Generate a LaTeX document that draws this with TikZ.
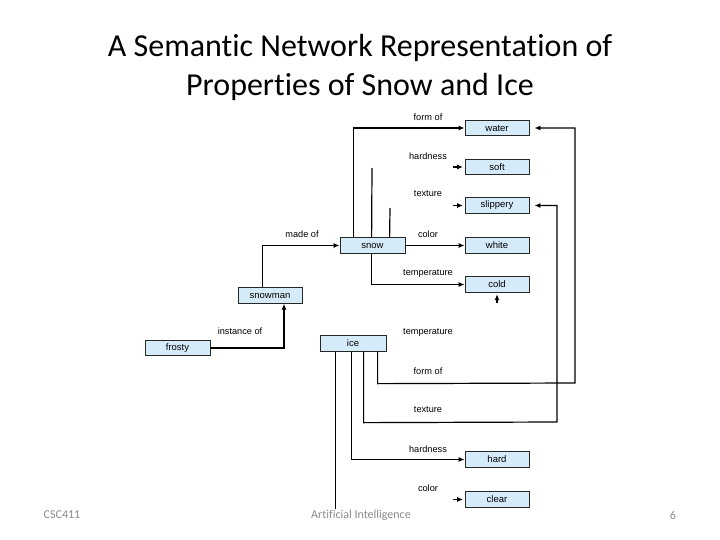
\documentclass[tikz,border=0pt]{standalone}
\usepackage{fontspec}
\setmainfont{Carlito}[Ligatures={NoCommon}]
\newfontfamily\diag{Liberation Sans}
\usetikzlibrary{arrows.meta,calc}
\definecolor{boxblue}{HTML}{D6EBF9}
\definecolor{footgray}{HTML}{8A8A8A}
\begin{document}
\begin{tikzpicture}[x=1pt,y=-1pt,
  box/.style={draw=black!85,line width=0.8pt,fill=boxblue,minimum width=64pt,minimum height=15.5pt,inner sep=0pt,font=\diag\fontsize{9.5}{11}\selectfont},
  lbl/.style={font=\diag\fontsize{9.2}{11}\selectfont,inner sep=0pt},
  conn/.style={draw=black,line width=1.2pt},
  arr/.style={conn,-{Latex[length=6pt,width=5pt]}},
  stub/.style={conn,-{Latex[length=6pt,width=5pt]},shorten >=1.5pt},
  foot/.style={font=\fontsize{12}{14}\selectfont,text=footgray,inner sep=0pt}]
\useasboundingbox (0,0) rectangle (720,540);
% title
\node[font=\fontsize{32}{38}\selectfont,inner sep=0pt] (t1) at (360,48) {A Semantic Network Representation of};
\node[font=\fontsize{32}{38}\selectfont,inner sep=0pt] (t2) at (360,87) {Properties of Snow and Ice};
% boxes
\node[box] (water) at (497,128) {water};
\node[box] (soft) at (497,167) {soft};
\node[box] (slippery) at (497,205.5) {slippery};
\node[box] (white) at (497,245.5) {white};
\node[box] (cold) at (497,284.5) {cold};
\node[box,minimum width=65pt] (snow) at (372.5,245.5) {snow};
\node[box] (snowman) at (270,295.5) {snowman};
\node[box,minimum width=65pt] (frosty) at (177.5,348) {frosty};
\node[box,minimum width=66pt] (ice) at (353,343.5) {ice};
\node[box] (hard) at (497,459.5) {hard};
\node[box] (clear) at (497,499.5) {clear};
% helper coordinates
\coordinate (sA) at ($(snow.north west)+(14,0)$);
\coordinate (sB) at ($(snow.north west)+(32,0)$);
\coordinate (sC) at ($(snow.north west)+(50,0)$);
\coordinate (sD) at ($(snow.south west)+(32,0)$);
\coordinate (hB) at (372,168);
\coordinate (hC) at (390,208);
\coordinate (mA) at ($(snowman.north west)+(25,0)$);
\coordinate (iA) at ($(ice.south west)+(58,0)$);
\coordinate (iB) at ($(ice.south west)+(44,0)$);
\coordinate (iC) at ($(ice.south west)+(32,0)$);
\coordinate (iD) at ($(ice.south west)+(16,0)$);
\coordinate (iDend) at ($(ice.south west)+(16,157)$);
\coordinate (pSoft) at (453,167);
\coordinate (pSlip) at (453,205.5);
\coordinate (pClear) at (453,499.5);
% snow relations
\draw[arr] (sA) |- (water.west);
\draw[conn] (sB) -- (hB);
\draw[conn] (sC) -- (hC);
\draw[arr] (snow.east) -- (white.west);
\draw[arr] (sD) |- (cold.west);
\draw[arr] (mA) |- (snow.west);
\draw[arr] (frosty.east) -| ([xshift=14pt]snowman.south);
% ice relations
\draw[stub] ([yshift=-10pt]cold.south) -- (cold.south);
\draw[arr,shorten >=5pt] (iA) -- ++(0,32) -- (575,383) -- (575,128) -- (water.east);
\draw[arr,shorten >=5pt] (iB) -- ++(0,71) -- (557,422) -- (557,205.5) -- (slippery.east);
\draw[arr] (iC) |- (hard.west);
\draw[conn] (iD) -- (iDend);
% labels
\node[lbl] (l1) at (428,117) {form of};
\node[lbl] (l2) at (428,156) {hardness};
\node[lbl] (l3) at (428,194) {texture};
\node[lbl] (l4) at (428,234) {color};
\node[lbl] (l5) at (428,273) {temperature};
\node[lbl] (l6) at (302,234) {made of};
\node[lbl] (l7) at (240,331) {instance of};
\node[lbl] (l8) at (428,332) {temperature};
\node[lbl] (l9) at (428,371) {form of};
\node[lbl] (l10) at (428,410) {texture};
\node[lbl] (l11) at (428,449) {hardness};
\node[lbl] (l12) at (428,488) {color};
% short incoming arrows (drawn last)
\path (pSoft) edge[stub] (soft.west);
\path (pSlip) edge[stub] (slippery.west);
\path (pClear) edge[stub] (clear.west);
% footer
\node[foot] (f1) at (62,515) {CSC411};
\node[foot] (f2) at (361,515) {Artificial Intelligence};
\node[foot] (f3) at (673,515) {6};
\end{tikzpicture}
\end{document}
